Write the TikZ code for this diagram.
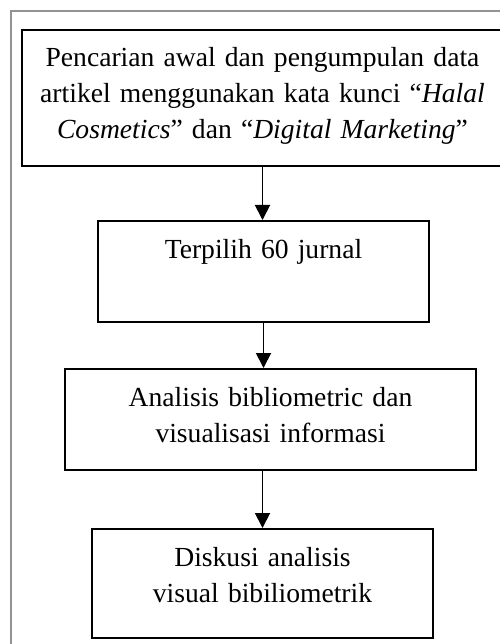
\documentclass[tikz,border=0pt]{standalone}
\usepackage{fontspec}
\setmainfont{Liberation Serif}
\usepackage{xcolor}
\usetikzlibrary{positioning,arrows.meta}

\begin{document}
\begin{tikzpicture}[x=1pt,y=-1pt]

\tikzset{
     element/.style={
     	rectangle,
  	 	line width=2pt,
  	 	draw=black,
  	 	inner ysep=0pt,
  	 	text height=37pt,
  	 	align=center,
  	 	font=\fontsize{27.6}{36}\selectfont
     }
}

\tikzset{
	flow/.style={
		line width=1.9pt,
		-{Triangle[length=15pt,width=15pt]}
	}
}

\useasboundingbox (0,0) rectangle (499,644);

% frame
\draw[line width=1.6pt, draw=gray!85] (520,11) -| (11,670);

% search
\node[element, anchor=north, minimum width=481pt, text width=470pt, text depth=99pt] (search) at (262.5,29)
	{Pencarian awal dan pengumpulan data\\
	 artikel menggunakan kata kunci “\textit{Halal}\\
	 \textit{Cosmetics}” dan “\textit{Digital Marketing}”};

% selected
\node[element, below=53pt of search, xshift=1pt, minimum width=331pt, text width=320pt, text depth=64pt] (selected)
	{Terpilih 60 jurnal};

% analysis
\node[element, below=45pt of selected, xshift=7pt, minimum width=411pt, text width=400pt, text depth=64pt] (analysis)
	{Analisis bibliometric dan\\ visualisasi informasi};

% discussion
\node[element, below=57pt of analysis, xshift=-8pt, minimum width=341pt, text width=330pt, text depth=72pt] (discussion)
	{Diskusi analisis\\ visual bibiliometrik};

\draw[flow] (search.south) -- (search.south |- selected.north);
\draw[flow] (selected.south) -- (selected.south |- analysis.north);
\draw[flow] (discussion.north |- analysis.south) -- (discussion.north);

\end{tikzpicture}
\end{document}
